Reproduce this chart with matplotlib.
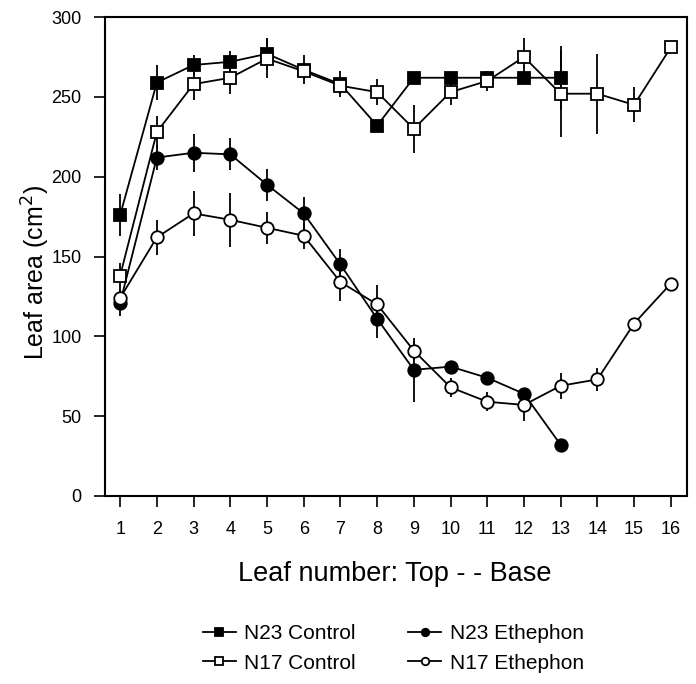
import matplotlib.pyplot as plt
import numpy as np

plt.rcParams['font.family'] = ['Liberation Sans', 'DejaVu Sans']

leaf = np.arange(1, 17)

n23_ctrl = [176, 259, 270, 272, 277, 267, 258, 232, 262, 262, 262, 262, 262]
n23_ctrl_err = [13, 11, 6, 7, 10, 9, 8, 0, 0, 0, 0, 0, 20]

n17_ctrl = [138, 228, 258, 262, 274, 266, 257, 253, 230, 253, 260, 275, 252, 252, 245, 281]
n17_ctrl_err = [8, 10, 10, 10, 12, 5, 5, 8, 15, 8, 6, 12, 27, 25, 11, 0]

n23_eth = [121, 212, 215, 214, 195, 177, 145, 111, 79, 81, 74, 64, 32]
n23_eth_err = [8, 8, 12, 10, 10, 10, 10, 12, 20, 0, 0, 0, 0]

n17_eth = [124, 162, 177, 173, 168, 163, 134, 120, 91, 68, 59, 57, 69, 73, 108, 133]
n17_eth_err = [6, 11, 14, 17, 10, 8, 12, 12, 6, 6, 6, 10, 8, 7, 0, 0]

fig = plt.figure(figsize=(6.96, 6.84), dpi=100)
ax = fig.add_axes([0.151, 0.275, 0.836, 0.700])

def series(y, err, marker, face, label):
    x = leaf[:len(y)]
    ax.errorbar(x, y, yerr=err, fmt='none', ecolor='black', elinewidth=1.3, capsize=0)
    ln, = ax.plot(x, y, color='black', lw=1.3, marker=marker, markersize=9,
                  markerfacecolor=face, markeredgecolor='black', markeredgewidth=1.3,
                  label=label)
    return ln

h1 = series(n23_ctrl, n23_ctrl_err, 's', 'black', 'N23 Control')
h2 = series(n17_ctrl, n17_ctrl_err, 's', 'white', 'N17 Control')
h3 = series(n23_eth, n23_eth_err, 'o', 'black', 'N23 Ethephon')
h4 = series(n17_eth, n17_eth_err, 'o', 'white', 'N17 Ethephon')

ax.set_xlim(0.59, 16.44)
ax.set_ylim(0, 300)
ax.set_xticks(leaf)
ax.set_yticks(np.arange(0, 301, 50))
ax.tick_params(direction='out', length=8, width=1.2, labelsize=13)
ax.tick_params(axis='x', pad=10)
ax.tick_params(axis='y', pad=9)
for s in ax.spines.values():
    s.set_linewidth(1.5)

ax.set_xlabel("Leaf number: Top - - Base", fontsize=19.5)
ax.xaxis.set_label_coords(0.498, -0.136)
ax.set_ylabel("Leaf area (cm$^2$)", fontsize=18)
ax.yaxis.set_label_coords(-0.092, 0.466)

fig.legend(handles=[h1, h2, h3, h4], ncol=2, loc='center', bbox_to_anchor=(0.565, 0.052),
           frameon=False, fontsize=15, markerscale=0.6, handlelength=1.6,
           columnspacing=2.5, handletextpad=0.4, labelspacing=0.5)

plt.savefig("out.png", dpi=100)
